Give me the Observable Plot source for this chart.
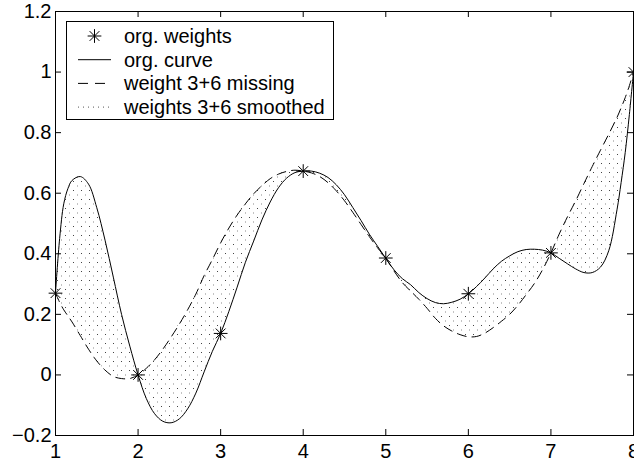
<!DOCTYPE html>
<html><head><meta charset="utf-8">
<script src="https://cdn.jsdelivr.net/npm/d3@7"></script>
<script src="https://cdn.jsdelivr.net/npm/@observablehq/plot@0.6"></script>
<style>
html,body{margin:0;padding:0;background:#fff;}
#chart{width:634px;height:466px;overflow:hidden;}
</style></head><body><div id="chart"></div>
<script>
// ---- data ----
const xs = [1,1.05,1.1,1.15,1.2,1.3,1.4,1.5,1.6,1.7,1.8,1.9,2,2.1,2.2,2.3,2.4,2.5,2.6,2.7,2.8,2.9,3,3.1,3.2,3.3,3.4,3.5,3.6,3.7,3.8,3.9,4,4.1,4.2,4.3,4.4,4.5,4.6,4.7,4.8,4.9,5,5.1,5.2,5.3,5.4,5.5,5.6,5.7,5.8,5.9,6,6.1,6.2,6.3,6.4,6.5,6.6,6.7,6.8,6.9,7,7.1,7.2,7.3,7.4,7.5,7.6,7.7,7.8,7.85,7.9,7.95,8];
const orgCurve = [0.270,0.450,0.565,0.615,0.642,0.655,0.630,0.552,0.445,0.323,0.200,0.095,0.000,-0.078,-0.128,-0.153,-0.158,-0.145,-0.112,-0.060,0.010,0.078,0.137,0.210,0.290,0.372,0.442,0.512,0.571,0.618,0.650,0.668,0.673,0.673,0.666,0.652,0.628,0.595,0.553,0.510,0.465,0.425,0.385,0.347,0.318,0.298,0.272,0.252,0.239,0.235,0.240,0.250,0.268,0.292,0.320,0.350,0.375,0.393,0.407,0.414,0.415,0.412,0.403,0.385,0.367,0.350,0.338,0.338,0.356,0.410,0.545,0.635,0.735,0.860,1.000];
const missingCurve = [0.270,0.240,0.215,0.195,0.175,0.130,0.085,0.046,0.016,-0.005,-0.012,-0.012,0.000,0.022,0.050,0.085,0.125,0.168,0.215,0.267,0.328,0.381,0.436,0.485,0.528,0.565,0.598,0.625,0.648,0.663,0.672,0.676,0.673,0.667,0.655,0.635,0.608,0.575,0.537,0.497,0.457,0.420,0.385,0.343,0.305,0.277,0.250,0.220,0.187,0.162,0.145,0.133,0.126,0.127,0.138,0.156,0.177,0.200,0.230,0.265,0.302,0.348,0.403,0.465,0.522,0.575,0.632,0.688,0.742,0.795,0.850,0.882,0.916,0.955,1.000];
const weightX = [1,2,3,4,5,6,7,8];
const weightY = [0.270,0.000,0.137,0.673,0.386,0.268,0.403,1.000];
const xTicks = [1,2,3,4,5,6,7,8];
const yTicks = [-0.2,0,0.2,0.4,0.6,0.8,1,1.2];
const yTickLabels = ["\u22120.2","0","0.2","0.4","0.6","0.8","1","1.2"];
const legendLabels = ["org. weights","org. curve","weight 3+6 missing","weights 3+6 smoothed"];

// ---- tables ----
const curveRows = xs.map((x,i)=>({x, org: orgCurve[i], miss: missingCurve[i]}));
const weightRows = weightX.map((x,i)=>({x, y: weightY[i]}));

const W=634, H=466, mT=11, mB=31, mL=55, mR=1;
const innerW = W-mL-mR, innerH = H-mT-mB, tickLen = 6;
const starR = 4.5;
const font = "'Liberation Sans', Arial, Helvetica, sans-serif";

const plot = Plot.plot({
  width: W, height: H, marginTop: mT, marginBottom: mB, marginLeft: mL, marginRight: mR,
  x: {domain: [1,8], label: null},
  y: {domain: [-0.2,1.2], label: null},
  style: {fontFamily: font, fontSize: "20px", background: "#fff", color: "#000", overflow: "visible"},
  marks: [
    Plot.areaY(curveRows, {x: "x", y1: "miss", y2: "org", fill: "url(#dotfill)", curve: "catmull-rom"}),
    Plot.line(curveRows, {x: "x", y: "miss", stroke: "#000", strokeWidth: 1, strokeDasharray: "9,6", curve: "catmull-rom"}),
    Plot.line(curveRows, {x: "x", y: "org", stroke: "#000", strokeWidth: 1, curve: "catmull-rom"}),
    Plot.dot(weightRows, {x: "x", y: "y", symbol: "plus", r: starR, stroke: "#000", strokeWidth: 1}),
    Plot.dot(weightRows, {x: "x", y: "y", symbol: "times", r: starR, stroke: "#000", strokeWidth: 1}),
    Plot.ruleX(xTicks, {x: d=>d, insetTop: innerH - tickLen, stroke: "#000"}),
    Plot.ruleX(xTicks, {x: d=>d, insetBottom: innerH - tickLen, stroke: "#000"}),
    Plot.ruleY(yTicks, {y: d=>d, insetRight: innerW - tickLen, stroke: "#000"}),
    Plot.ruleY(yTicks, {y: d=>d, insetLeft: innerW - tickLen, stroke: "#000"}),
    Plot.frame({stroke: "#000", strokeWidth: 1}),
    Plot.axisX(xTicks, {tickSize: 0, tickPadding: 8, tickFormat: d=>String(d), fontSize: 20, label: null}),
    Plot.axisY(yTicks, {tickSize: 0, tickPadding: 4, tickFormat: d=>yTickLabels[yTicks.indexOf(d)], fontSize: 20, label: null})
  ]
});

const svg = d3.select(plot);
const defs = svg.insert("defs", ":first-child");
const pat = defs.append("pattern").attr("id","dotfill").attr("patternUnits","userSpaceOnUse")
  .attr("width",8).attr("height",9);
pat.append("rect").attr("x",1).attr("y",1).attr("width",1).attr("height",1).attr("fill","#444");
pat.append("rect").attr("x",5).attr("y",5.5).attr("width",1).attr("height",1).attr("fill","#888");

// legend
const lg = svg.append("g").attr("font-family", font).attr("font-size", 20).attr("text-anchor","start");
lg.append("rect").attr("x",66.5).attr("y",21.5).attr("width",267).attr("height",98)
  .attr("fill","#fff").attr("stroke","#000");
const rowY0 = 36, rowStep = 23.7, sx1 = 78, sx2 = 111, tx = 124;
legendLabels.forEach((lab,i)=>{
  const y = rowY0 + i*rowStep;
  if (i===0) {
    const sz = Math.PI*starR*starR;
    lg.append("path").attr("d", d3.symbol(d3.symbolPlus, sz)()).attr("transform",`translate(${(sx1+sx2)/2},${y})`).attr("fill","none").attr("stroke","#000");
    lg.append("path").attr("d", d3.symbol(d3.symbolTimes, sz)()).attr("transform",`translate(${(sx1+sx2)/2},${y})`).attr("fill","none").attr("stroke","#000");
  } else {
    const ln = lg.append("line").attr("x1",sx1).attr("x2",sx2).attr("y1",y).attr("y2",y).attr("stroke","#000");
    if (i===2) ln.attr("stroke-dasharray","10,7");
    if (i===3) ln.attr("stroke-dasharray","1,4").attr("stroke","#555");
  }
  lg.append("text").attr("x",tx).attr("y",y).attr("dy","0.35em").attr("text-anchor","start").text(lab);
});

document.getElementById("chart").appendChild(plot);
</script></body></html>
